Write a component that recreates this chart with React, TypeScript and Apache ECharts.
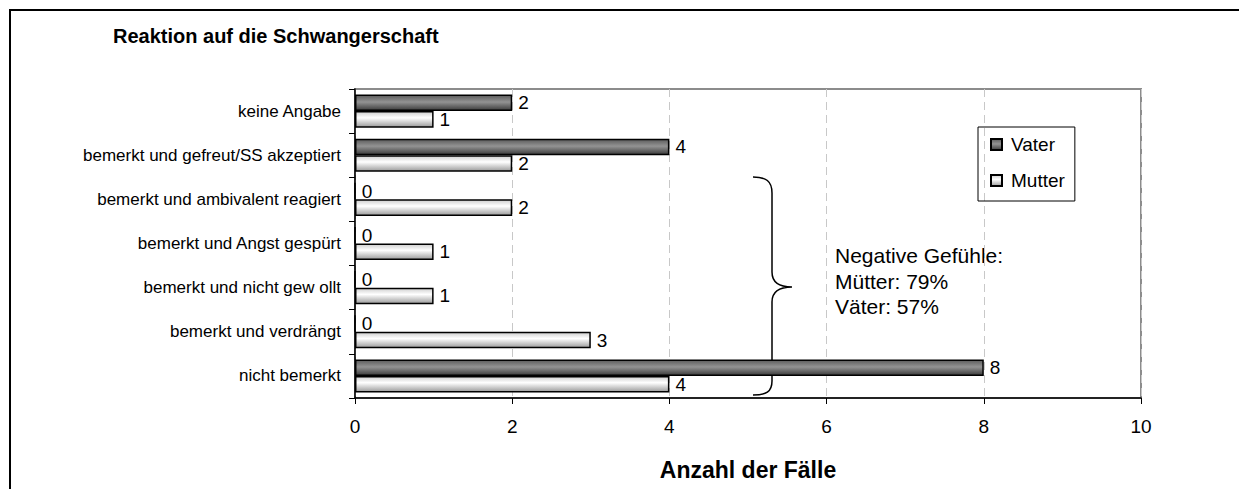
import React, { useEffect, useRef } from "react";
import * as echarts from "echarts";

const title = "Reaktion auf die Schwangerschaft";
const categories = [
  "keine Angabe",
  "bemerkt und gefreut/SS akzeptiert",
  "bemerkt und ambivalent reagiert",
  "bemerkt und Angst gespürt",
  "bemerkt und nicht gew ollt",
  "bemerkt und verdrängt",
  "nicht bemerkt",
];
const vater = [2, 4, 0, 0, 0, 0, 8];
const mutter = [1, 2, 2, 1, 1, 3, 4];
const seriesNames = ["Vater", "Mutter"];
const xTicks = { min: 0, max: 10, interval: 2 };
const xAxisName = "Anzahl der Fälle";
const noteText = "Negative Gefühle:\nMütter: 79%\nVäter: 57%";

const FONT = "'Liberation Sans', Arial, sans-serif";

const BRACE_D =
  "M753,177 C766,177 772,181 772,193 L772,272 C772,282 778,287 792,287 C778,287 772,292 772,302 L772,381 C772,392 766,395 753,395";

let registered = false;

export default function App() {
  const ref = useRef<HTMLDivElement>(null);
  useEffect(() => {
    if (!registered) {
      echarts.graphic.registerShape("brace", echarts.graphic.extendPath(BRACE_D, {}));
      registered = true;
    }
    const chart = echarts.init(ref.current!, null, { renderer: "svg" });
    const vaterGrad = new echarts.graphic.LinearGradient(0, 0, 0, 1, [
      { offset: 0, color: "#5c5c5c" },
      { offset: 0.45, color: "#939393" },
      { offset: 1, color: "#3c3c3c" },
    ]);
    const mutterGrad = new echarts.graphic.LinearGradient(0, 0, 0, 1, [
      { offset: 0, color: "#cfcfcf" },
      { offset: 0.4, color: "#ffffff" },
      { offset: 1, color: "#9c9c9c" },
    ]);
    const label = {
      show: true,
      position: "right" as const,
      distance: 6,
      color: "#000",
      fontSize: 19,
      fontFamily: FONT,
    };
    chart.setOption({
      animation: false,
      backgroundColor: "#fff",
      title: {
        text: title,
        left: 108,
        top: 21,
        textStyle: { fontSize: 20, fontWeight: "bold", color: "#000", fontFamily: FONT },
      },
      legend: {
        orient: "vertical",
        left: 978,
        top: 127,
        padding: [8, 10, 11, 12],
        itemGap: 17,
        itemWidth: 11,
        itemHeight: 11,
        borderColor: "#000",
        borderWidth: 1,
        icon: "rect",
        textStyle: { fontSize: 19, color: "#000", fontFamily: FONT, padding: [0, 0, 0, 4] },
        data: seriesNames,
      },
      grid: {
        left: 355,
        top: 89,
        right: 98,
        bottom: 91,
        show: true,
        borderColor: "#8c8c8c",
        borderWidth: 2,
        containLabel: false,
      },
      xAxis: {
        type: "value",
        min: xTicks.min,
        max: xTicks.max,
        interval: xTicks.interval,
        axisLine: { show: true, lineStyle: { color: "#000", width: 1.5 } },
        axisTick: { show: true, length: 6, lineStyle: { color: "#000" } },
        axisLabel: { fontSize: 19, color: "#000", fontFamily: FONT, margin: 19 },
        splitLine: { show: true, lineStyle: { color: "#c8c8c8", type: [8, 5], width: 1 } },
        name: xAxisName,
        nameLocation: "middle",
        nameGap: 60,
        nameTextStyle: { fontSize: 23, fontWeight: "bold", color: "#000", fontFamily: FONT },
      },
      yAxis: {
        type: "category",
        inverse: true,
        data: categories,
        axisLine: { show: true, lineStyle: { color: "#000", width: 1.5 } },
        axisTick: { show: true, length: 6, lineStyle: { color: "#000" } },
        axisLabel: { fontSize: 17, color: "#000", fontFamily: FONT, margin: 14 },
        splitLine: { show: false },
      },
      series: [
        {
          name: seriesNames[0],
          type: "bar",
          data: vater,
          barGap: "0%",
          barCategoryGap: "25%",
          itemStyle: { color: vaterGrad, borderColor: "#000", borderWidth: 1.5 },
          label,
        },
        {
          name: seriesNames[1],
          type: "bar",
          data: mutter,
          barGap: "0%",
          barCategoryGap: "25%",
          itemStyle: { color: mutterGrad, borderColor: "#000", borderWidth: 1.5 },
          label,
        },
      ],
      graphic: [
        {
          type: "rect",
          shape: { x: 10, y: 10, width: 1260, height: 500 },
          style: { fill: "none", stroke: "#000", lineWidth: 2 },
          silent: true,
        },
        {
          type: "brace",
          x: 0,
          y: 0,
          style: { fill: "none", stroke: "#000", lineWidth: 1.5 },
          silent: true,
        },
        {
          type: "text",
          x: 835,
          y: 243,
          style: {
            text: noteText,
            fontSize: 21,
            fontFamily: FONT,
            lineHeight: 25.5,
            fill: "#000",
          },
          silent: true,
        },
      ],
    });
    return () => chart.dispose();
  }, []);
  return (
    <div
      ref={ref}
      style={{ position: "fixed", left: 0, top: 0, width: 1239, height: 489 }}
    />
  );
}
